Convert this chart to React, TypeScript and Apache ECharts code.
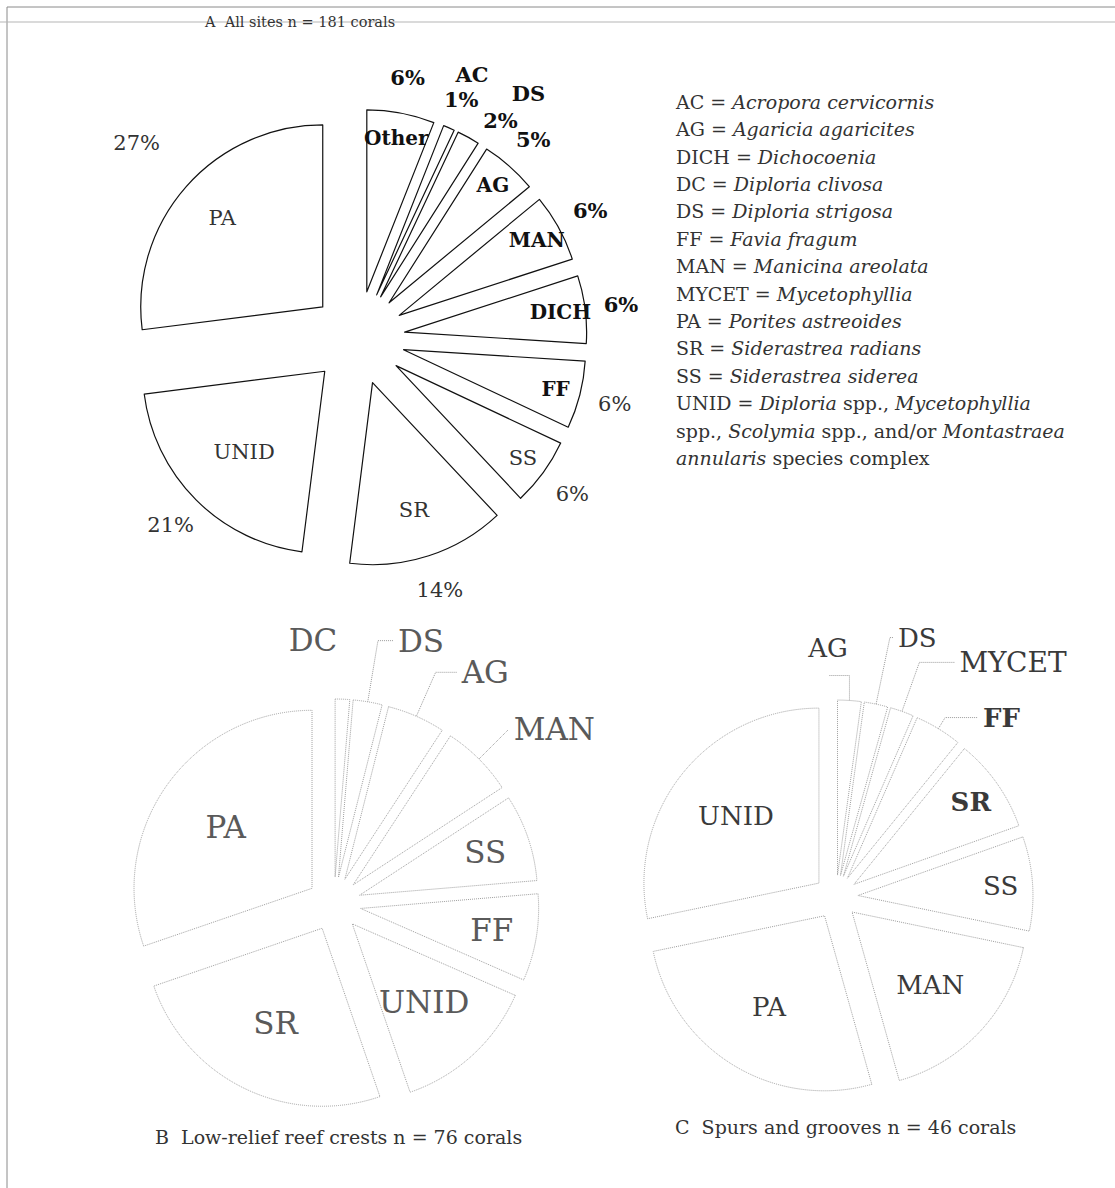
import React, { useEffect, useRef } from 'react';
import * as echarts from 'echarts';

const FONT = 'DejaVu Serif';

// Panel A: all sites, percentages printed on the chart
const catsA = ['Other', 'AC', 'DS', 'AG', 'MAN', 'DICH', 'FF', 'SS', 'SR', 'UNID', 'PA'];
const valsA = [6, 1, 2, 5, 6, 6, 6, 6, 14, 21, 27];

// Panel B: low-relief reef crests (coral counts, n = 76)
const catsB = ['DC', 'DS', 'AG', 'MAN', 'SS', 'FF', 'UNID', 'SR', 'PA'];
const valsB = [1, 2, 4, 5, 6, 6, 10, 19, 23];

// Panel C: spurs and grooves (coral counts, n = 46)
const catsC = ['AG', 'DS', 'MYCET', 'FF', 'SR', 'SS', 'MAN', 'PA', 'UNID'];
const valsC = [1, 1, 1, 2, 4, 4, 8, 12, 13];

// Key
const legendAbbr = ['AC', 'AG', 'DICH', 'DC', 'DS', 'FF', 'MAN', 'MYCET', 'PA', 'SR', 'SS'];
const legendSpecies = [
  'Acropora cervicornis', 'Agaricia agaricites', 'Dichocoenia', 'Diploria clivosa',
  'Diploria strigosa', 'Favia fragum', 'Manicina areolata', 'Mycetophyllia',
  'Porites astreoides', 'Siderastrea radians', 'Siderastrea siderea',
];
const unidLines: [string, string][][] = [
  [['r', 'UNID = '], ['i', 'Diploria'], ['r', ' spp., '], ['i', 'Mycetophyllia']],
  [['r', 'spp., '], ['i', 'Scolymia'], ['r', ' spp., and/or '], ['i', 'Montastraea']],
  [['i', 'annularis'], ['r', ' species complex']],
];

const titleA = 'A  All sites n = 181 corals';
const captionB = 'B  Low-relief reef crests n = 76 corals';
const captionC = 'C  Spurs and grooves n = 46 corals';

type LabelFn = (name: string) => any | null;

// transparent pie whose inside labels sit at radius `mid`
function ring(center: number[], mid: number, cats: string[], vals: number[], fn: LabelFn, formatter: string) {
  return {
    type: 'pie',
    center,
    radius: [0, mid * 2],
    silent: true,
    avoidLabelOverlap: false,
    labelLayout: { hideOverlap: false },
    emphasis: { disabled: true },
    itemStyle: { color: 'rgba(0,0,0,0)', borderWidth: 0 },
    labelLine: { show: false },
    label: { show: false, position: 'inside' },
    data: cats.map((name, i) => {
      const l = fn(name);
      return {
        name,
        value: vals[i],
        label: l
          ? { show: true, position: 'inside', formatter, fontFamily: FONT, textBorderWidth: 0, ...l }
          : { show: false },
      };
    }),
  };
}

const bold = (size: number, color = '#111') => ({ fontSize: size, fontWeight: 'bold', color });
const reg = (size: number, color = '#333') => ({ fontSize: size, fontWeight: 'normal', color });

export default function App() {
  const ref = useRef<HTMLDivElement>(null);
  useEffect(() => {
    if (!ref.current) return;
    const chart = echarts.init(ref.current, undefined, { renderer: 'svg' });

    const cA = [358, 338];
    const cB = [334, 904];
    const cC = [836, 897];

    const mainA = {
      type: 'pie',
      center: cA,
      radius: [0, 182],
      selectedMode: 'multiple',
      selectedOffset: 47,
      avoidLabelOverlap: false,
      emphasis: { disabled: true },
      itemStyle: { color: '#fff', borderColor: '#111', borderWidth: 1.2 },
      select: { itemStyle: { color: '#fff', borderColor: '#111', borderWidth: 1.2 } },
      label: { show: false },
      labelLine: { show: false },
      data: catsA.map((name, i) => ({ name, value: valsA[i], selected: true })),
    };

    const boldNamesA = ['Other', 'AG', 'MAN', 'DICH', 'FF'];
    const boldPctA = ['Other', 'AC', 'DS', 'AG', 'MAN', 'DICH'];

    const seriesA = [
      mainA,
      ring(cA, 201, catsA, valsA, (n) =>
        ['Other', 'AG', 'MAN', 'DICH', 'FF', 'SS'].includes(n)
          ? (boldNamesA.includes(n) ? bold(20) : reg(21))
          : null, '{b}'),
      ring(cA, 178, catsA, valsA, (n) => (['SR', 'PA'].includes(n) ? reg(21) : null), '{b}'),
      ring(cA, 158, catsA, valsA, (n) => (n === 'UNID' ? reg(21) : null), '{b}'),
      ring(cA, 262, catsA, valsA, (n) =>
        ['PA', 'AC', 'DS'].includes(n) ? null : boldPctA.includes(n) ? bold(21) : reg(21), '{c}%'),
      ring(cA, 292, catsA, valsA, (n) => (n === 'PA' ? reg(21) : null), '{c}%'),
      ring(cA, 257, catsA, valsA, (n) => (n === 'AC' ? bold(21) : null), '{c}%'),
      ring(cA, 245, catsA, valsA, (n) => (n === 'DS' ? { ...bold(21), padding: [0, 0, 0, 46] } : null), '{c}%'),
      ring(cA, 284, catsA, valsA, (n) => (n === 'AC' ? bold(21) : null), '{b}'),
      ring(cA, 276, catsA, valsA, (n) => (n === 'DS' ? { ...bold(21), padding: [0, 0, 0, 72] } : null), '{b}'),
    ];

    // Panel B
    const dotted = { color: '#9a9a9a', type: 'dotted', width: 1 };
    const labB = { fontFamily: FONT, fontSize: 31, color: '#5a5a5a', textBorderWidth: 0 };
    const outsideB: Record<string, [number, number]> = { DS: [62, 15], AG: [48, 21], MAN: [42, 0] };
    const mainB = {
      type: 'pie',
      center: cB,
      radius: [0, 178],
      selectedMode: 'multiple',
      selectedOffset: 27,
      avoidLabelOverlap: false,
      labelLayout: { hideOverlap: false },
      emphasis: { disabled: true },
      itemStyle: { color: '#fff', borderColor: '#a0a0a0', borderWidth: 1, borderType: 'dotted' },
      select: { itemStyle: { color: '#fff', borderColor: '#a0a0a0', borderWidth: 1, borderType: 'dotted' } },
      label: { show: false },
      labelLine: { show: false },
      data: catsB.map((name, i) => {
        const o = outsideB[name];
        return {
          name,
          value: valsB[i],
          selected: true,
          label: o ? { show: true, position: 'outside', formatter: '{b}', ...labB } : { show: false },
          labelLine: o ? { show: true, length: o[0], length2: o[1], lineStyle: dotted } : { show: false },
        };
      }),
    };
    const seriesB = [
      mainB,
      ring(cB, 130, catsB, valsB, (n) => (['PA', 'SR', 'UNID'].includes(n) ? labB : null), '{b}'),
      ring(cB, 157, catsB, valsB, (n) => (['SS', 'FF'].includes(n) ? labB : null), '{b}'),
      ring(cB, 261, catsB, valsB, (n) => (n === 'DC' ? { ...labB, padding: [0, 64, 0, 0] } : null), '{b}'),
    ];

    // Panel C
    const labC = { fontFamily: FONT, fontSize: 26, color: '#3a3a3a', textBorderWidth: 0 };
    const boldC = ['SR', 'FF'];
    const sizeC = (n: string) => (n === 'MYCET' ? 28 : 26);
    const outsideC: Record<string, [number, number]> = { AG: [25, -22], DS: [68, 3], MYCET: [52, 35], FF: [13, 33] };
    const mainC = {
      type: 'pie',
      center: cC,
      radius: [0, 175],
      selectedMode: 'multiple',
      selectedOffset: 22,
      avoidLabelOverlap: false,
      labelLayout: { hideOverlap: false },
      emphasis: { disabled: true },
      itemStyle: { color: '#fff', borderColor: '#a0a0a0', borderWidth: 1, borderType: 'dotted' },
      select: { itemStyle: { color: '#fff', borderColor: '#a0a0a0', borderWidth: 1, borderType: 'dotted' } },
      label: { show: false },
      labelLine: { show: false },
      data: catsC.map((name, i) => {
        const o = outsideC[name];
        return {
          name,
          value: valsC[i],
          selected: true,
          label: o
            ? {
                show: true, position: 'outside', formatter: '{b}', ...labC,
                fontSize: sizeC(name),
                fontWeight: boldC.includes(name) ? 'bold' : 'normal',
                color: name === 'AG' ? 'rgba(0,0,0,0)' : labC.color,
              }
            : { show: false },
          labelLine: o ? { show: true, length: o[0], length2: o[1], lineStyle: dotted } : { show: false },
        };
      }),
    };
    const fwC = (n: string) => ({ ...labC, fontSize: sizeC(n), fontWeight: boldC.includes(n) ? 'bold' : 'normal' });
    const seriesC = [
      mainC,
      ring(cC, 126, catsC, valsC, (n) => (['UNID', 'PA', 'MAN'].includes(n) ? fwC(n) : null), '{b}'),
      ring(cC, 162, catsC, valsC, (n) => (['SS', 'SR'].includes(n) ? fwC(n) : null), '{b}'),
      ring(cC, 247, catsC, valsC, (n) => (n === 'AG' ? { ...fwC(n), padding: [0, 50, 0, 0] } : null), '{b}'),
    ];

    // Key text
    const keyLines: string[] = legendAbbr.map((a, i) => `{r|${a} = }{i|${legendSpecies[i]}}`);
    unidLines.forEach((segs) => keyLines.push(segs.map(([k, t]) => `{${k}|${t}}`).join('')));
    const keyStyle = { fontFamily: FONT, fontSize: 19, fill: '#333', lineHeight: 27.4 };

    chart.setOption({
      animation: false,
      backgroundColor: '#fff',
      series: [...seriesA, ...seriesB, ...seriesC],
      graphic: [
        { type: 'line', shape: { x1: 7, y1: 7, x2: 1115, y2: 7 }, style: { stroke: '#8a8a8a', lineWidth: 1 }, silent: true },
        { type: 'line', shape: { x1: 7, y1: 7, x2: 7, y2: 1188 }, style: { stroke: '#8a8a8a', lineWidth: 1 }, silent: true },
        { type: 'line', shape: { x1: 0, y1: 22, x2: 1115, y2: 22 }, style: { stroke: '#b5b5b5', lineWidth: 1 }, silent: true },
        {
          type: 'text', x: 205, y: 22, silent: true,
          style: { text: titleA, font: `14.5px "${FONT}"`, fill: '#333', verticalAlign: 'middle', align: 'left' },
        },
        {
          type: 'text', x: 676, y: 88, silent: true,
          style: {
            text: keyLines.join('\n'),
            fill: '#333',
            font: `19px "${FONT}"`,
            rich: { r: { ...keyStyle }, i: { ...keyStyle, fontStyle: 'italic' } },
          },
        },
        {
          type: 'text', x: 155, y: 1137, silent: true,
          style: { text: captionB, font: `19px "${FONT}"`, fill: '#333', verticalAlign: 'middle' },
        },
        {
          type: 'text', x: 675, y: 1127, silent: true,
          style: { text: captionC, font: `19px "${FONT}"`, fill: '#333', verticalAlign: 'middle' },
        },
      ],
    });
    return () => chart.dispose();
  }, []);
  return <div ref={ref} style={{ position: 'absolute', left: 0, top: 0, width: 1115, height: 1188 }} />;
}
